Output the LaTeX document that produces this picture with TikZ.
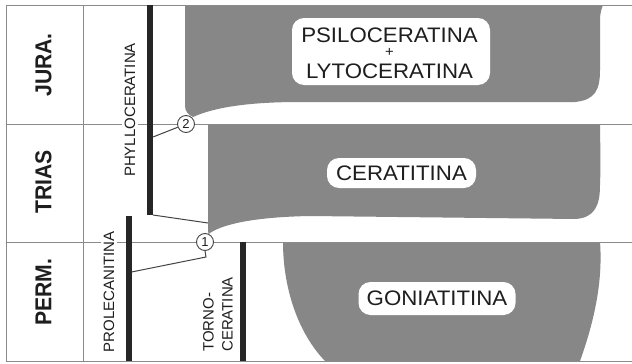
\documentclass[tikz,border=0pt]{standalone}
\usepackage{fontspec}
\setmainfont{Liberation Sans}
\newfontfamily\perf[FakeStretch=0.92]{Liberation Sans}
\newfontfamily\boxf[FakeStretch=1.06]{Liberation Sans}
\definecolor{fillg}{HTML}{878787}
\definecolor{rulec}{HTML}{8A8A8A}
\definecolor{barc}{HTML}{262626}
\definecolor{ink}{HTML}{1E1E1E}
\definecolor{connc}{HTML}{444444}
\begin{document}
\begin{tikzpicture}[x=1pt,y=-1pt,
  rulel/.style={draw=rulec,line width=1pt},
  barl/.style={draw=barc,line width=6pt},
  conn/.style={draw=connc,line width=1pt},
  region/.style={fill=fillg},
  circ/.style={circle,draw=connc,fill=white,line width=0.9pt,inner sep=0pt,minimum size=17pt,text=ink,font=\fontsize{13}{13}\selectfont},
  per/.style={rotate=90,text=ink,font=\perf\bfseries\fontsize{23}{23}\selectfont},
  sub/.style={rotate=90,text=ink,fill=white,inner sep=3pt,font=\fontsize{15}{19}\selectfont},
  lbox/.style={fill=white,rounded corners=12pt,inner sep=0pt,text=ink,font=\boxf\fontsize{21}{21}\selectfont},
  btxt/.style={inner sep=0pt,text=ink,align=center,font=\boxf\fontsize{21}{21}\selectfont}]
\useasboundingbox (0,0) rectangle (632,364);
\fill[white] (0,0) rectangle (632,364);
% grey ranges
\fill[region] (185,5) -- (185,106) .. controls (185,112) and (189,115) .. (193,117)
  .. controls (215,107) and (250,102) .. (300,102) -- (575,102)
  .. controls (595,100) and (600,90) .. (600,70) -- (600,20)
  .. controls (600,12) and (602,8) .. (603,5) -- cycle;
\fill[region] (208,124) -- (208,226) .. controls (208,230) and (208,232) .. (208.5,234)
  .. controls (222,224) and (255,217) .. (310,216) -- (575,219)
  .. controls (595,218) and (600,205) .. (600,185)
  .. controls (601,160) and (600,140) .. (600,124) -- cycle;
\fill[region] (283,242) .. controls (283,288) and (298,333) .. (325,361) -- (580,361)
  .. controls (594,322) and (603,282) .. (600,242) -- cycle;
% frame
\draw[rulel] (6,5) -- (632,5);
\draw[rulel] (6,361) -- (632,361);
\draw[rulel] (6,5) -- (6,361);
\draw[rulel] (83,5) -- (83,361);
\draw[rulel] (6,124) -- (632,124);
\draw[rulel] (6,242) -- (632,242);
% period labels
\node[per] (jura) at (43.5,65) {JURA.};
\node[per] (trias) at (43.5,182) {TRIAS};
\node[per] (perm) at (43.5,292) {PERM.};
% lineage bars
\draw[barl] (150,5) -- (150,215);
\draw[barl] (128.5,216) -- (128.5,361);
\draw[barl] (243,242) -- (243,361);
\coordinate (phyB) at (153,215);
\coordinate (phyM) at (153,137);
\coordinate (proM) at (131.5,272);
\coordinate (triT) at (208,223);
\coordinate (k1) at (206,257);
% lineage labels
\node[sub] (phy) at (130,110) {PHYLLOCERATINA};
\node[sub] (pro) at (109,292) {PROLECANITINA};
\node[rotate=90,anchor=west,align=left,inner sep=0pt,text=ink,font=\fontsize{15}{19}\selectfont] (torno) at (218,352) {TORNO-\\CERATINA};
% nodes
\node[circ] (c2) at (186,124) {2};
\node[circ] (c1) at (205,242) {1};
\draw[conn] (c2) -- (phyM);
\draw[conn] (phyB) -- (triT);
\draw[conn] (c1.south) -- (k1) -- (proM);
% group labels
\node[lbox,minimum width=198pt,minimum height=67pt] (psi) at (391,51.5) {};
\node[btxt] (psit) at (389.5,53.5) {PSILOCERATINA\\[-7pt]{\fontsize{14}{14}\selectfont +}\\[1pt]LYTOCERATINA};
\node[lbox,minimum width=149pt,minimum height=30pt] (cer) at (401.5,173) {CERATITINA};
\node[lbox,minimum width=157pt,minimum height=33pt] (gon) at (437,298.5) {GONIATITINA};
\end{tikzpicture}
\end{document}
